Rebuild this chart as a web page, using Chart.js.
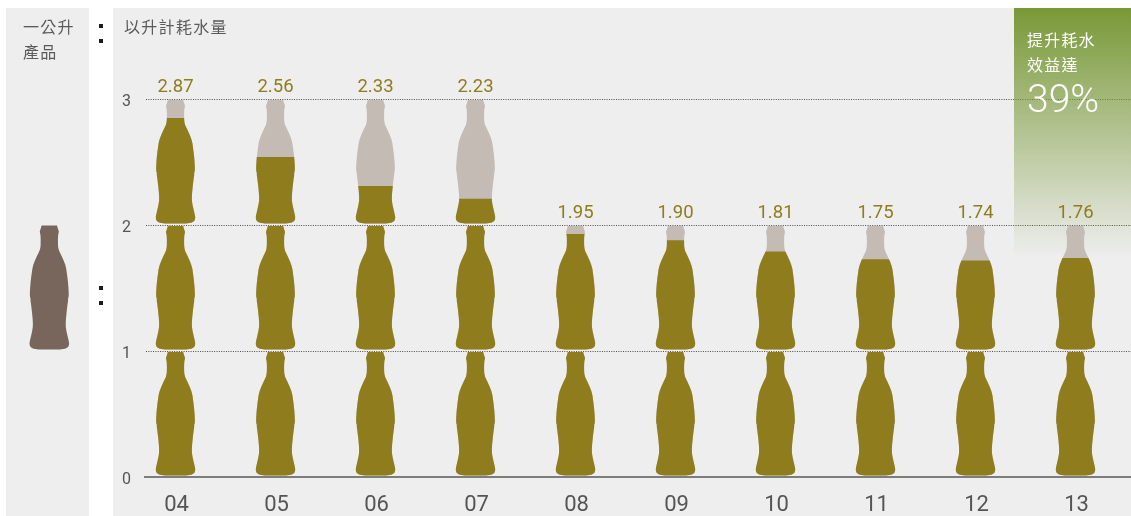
<!DOCTYPE html>
<html lang="zh-Hant">
<head>
<meta charset="utf-8">
<script src="https://cdn.jsdelivr.net/npm/chart.js@4"></script>
<style>
html,body{margin:0;padding:0;background:#fff;width:1131px;height:516px;overflow:hidden}
body{position:relative;font-family:Roboto,"Noto Sans CJK TC",sans-serif}
.panel{position:absolute;background:#eeeeee}
.dot{position:absolute;width:4px;height:4px;background:#1c1c1c;left:99px}
.txt{position:absolute;color:#5a5a5a;font:16px/25px Roboto,"Noto Sans CJK TC",sans-serif;letter-spacing:1.3px;white-space:nowrap}
canvas{position:absolute;left:0;top:0}
</style>
</head>
<body>
<div class="panel" style="left:6px;top:8px;width:83px;height:508px"></div>
<div class="panel" style="left:113px;top:8px;width:1018px;height:508px"></div>
<div class="dot" style="top:24px"></div>
<div class="dot" style="top:39px"></div>
<div class="dot" style="top:286px"></div>
<div class="dot" style="top:301px"></div>
<canvas id="chart" width="1131" height="516" style="width:1131px;height:516px"></canvas>
<div class="txt" style="left:23px;top:15px">一公升<br>產品</div>
<div class="txt" style="left:124px;top:15px">以升計耗水量</div>
<div class="txt" style="left:1027px;top:28px;color:#fff;font-size:16px;line-height:25px;letter-spacing:1.2px">提升耗水<br>效益達</div>
<div class="txt" style="left:1027px;top:77px;color:#fff;font:300 39px/44px Roboto,sans-serif;letter-spacing:0">39%</div>
<script>
const categories = ['04','05','06','07','08','09','10','11','12','13'];
const waterUse = [2.87,2.56,2.33,2.23,1.95,1.90,1.81,1.75,1.74,1.76];
const bottleCapacity = [3,3,3,3,2,2,2,2,2,2];
const yTicks = [0,1,2,3];

const OLIVE = '#8f7d1d', EMPTY = '#c4bbb5', KEY = '#78665c';

// half-outline of one bottle in a 370-tall design box: [distance from top, half width]
const outline = [[0,23],[8,25],[13,27],[19,29],[27,26],[59,25.5],[74,28],[89,36],[119,49],[139,52],
  [169,56],[199,58],[213,58],[218,55.5],[222,56.5],[238,54],[278,49.5],[303,48.5],[328,54],[348,59],[358,59],[365,54],[370,40]];

function addBottle(path, cx, top, bottom) {
  const s = (bottom - top) / 370;
  const pts = outline.map(p => [cx + p[1]*s, top + p[0]*s])
    .concat(outline.slice().reverse().map(p => [cx - p[1]*s, top + p[0]*s]));
  path.moveTo(pts[0][0], pts[0][1]);
  for (let i = 1; i < pts.length - 1; i++) {
    const mx = (pts[i][0] + pts[i+1][0]) / 2, my = (pts[i][1] + pts[i+1][1]) / 2;
    path.quadraticCurveTo(pts[i][0], pts[i][1], mx, my);
  }
  path.lineTo(pts[pts.length-1][0], pts[pts.length-1][1]);
  path.closePath();
}

const bottlePlugin = {
  id: 'bottles',
  beforeDatasetsDraw(chart) {
    const c = chart.ctx, y = chart.scales.y;
    // highlight band behind the last year
    const g = c.createLinearGradient(0, 8, 0, 256);
    g.addColorStop(0, 'rgba(120,152,54,1)');
    g.addColorStop(1, 'rgba(120,152,54,0)');
    c.fillStyle = g;
    c.fillRect(1014, 8, 117, 248);
    // key bottle: one litre of product
    const key = new Path2D();
    addBottle(key, 49.3, y.getPixelForValue(2) + 0.5, y.getPixelForValue(1) - 1.5);
    c.fillStyle = KEY;
    c.fill(key);
    // every bar is seen through a stack of bottles
    const clip = new Path2D();
    const bars = chart.getDatasetMeta(0).data;
    bars.forEach((bar, i) => {
      for (let k = 0; k < bottleCapacity[i]; k++) {
        addBottle(clip, bar.x, y.getPixelForValue(k+1) + 1, y.getPixelForValue(k) - 1.5);
      }
    });
    c.save();
    c.clip(clip);
  },
  beforeDatasetDraw(chart, args) {
    // the liquid level sits inside the glass, a little under the nominal value
    chart.ctx.save();
    if (args.index === 1) chart.ctx.translate(0, 3);
  },
  afterDatasetDraw(chart) { chart.ctx.restore(); },
  afterDatasetsDraw(chart) {
    const c = chart.ctx, y = chart.scales.y;
    c.restore();
    c.save();
    c.font = '18.5px Roboto, sans-serif';
    c.fillStyle = '#8f7d1d';
    c.textAlign = 'center';
    c.textBaseline = 'middle';
    chart.getDatasetMeta(0).data.forEach((bar, i) => {
      c.fillText(waterUse[i].toFixed(2), bar.x, y.getPixelForValue(bottleCapacity[i]) - 12);
    });
    c.restore();
  }
};

new Chart(document.getElementById('chart'), {
  type: 'bar',
  data: {
    datasets: [
      { data: bottleCapacity.map((v,i) => ({x:i, y:v})), backgroundColor: EMPTY, barThickness: 60, grouped: false, order: 2 },
      { data: waterUse.map((v,i) => ({x:i, y:v})), backgroundColor: OLIVE, barThickness: 60, grouped: false, order: 1 }
    ]
  },
  plugins: [bottlePlugin],
  options: {
    responsive: false,
    animation: false,
    layout: { padding: { top: 99, left: 0, right: 0, bottom: 0 } },
    plugins: { legend: {display:false}, tooltip: {enabled:false} },
    events: [],
    scales: {
      x: {
        type: 'linear',
        offset: false,
        min: -0.295,
        max: 9.555,
        afterBuildTicks(s) { s.ticks = categories.map((_, i) => ({value:i})); },
        afterFit(s) { s.height = 39; },
        grid: { display:false },
        border: { display:false },
        ticks: {
          autoSkip:false, maxRotation:0, minRotation:0,
          callback: v => categories[v],
          color:'#555555', font:{family:'Roboto, sans-serif', size:22}, padding:7, labelOffset:1
        }
      },
      y: {
        min: 0, max: 3,
        afterBuildTicks(s) { s.ticks = yTicks.map(v => ({value:v})); },
        afterFit(s) { s.width = 146; },
        border: { display:false, dash: c => c.tick && c.tick.value === 0 ? [] : [1,1.35] },
        grid: {
          color: c => c.tick.value === 0 ? '#7d7d7d' : '#4d4d4d',
          lineWidth: c => c.tick.value === 0 ? 2 : 1,
          tickLength: 2,
          tickColor: c => c.tick.value === 0 ? '#7d7d7d' : 'rgba(0,0,0,0)',
          tickWidth: c => c.tick.value === 0 ? 2 : 1
        },
        ticks: { color:'#555555', font:{family:'Roboto, sans-serif', size:16}, padding:13, labelOffset:3 }
      }
    }
  }
});
</script>
</body>
</html>
